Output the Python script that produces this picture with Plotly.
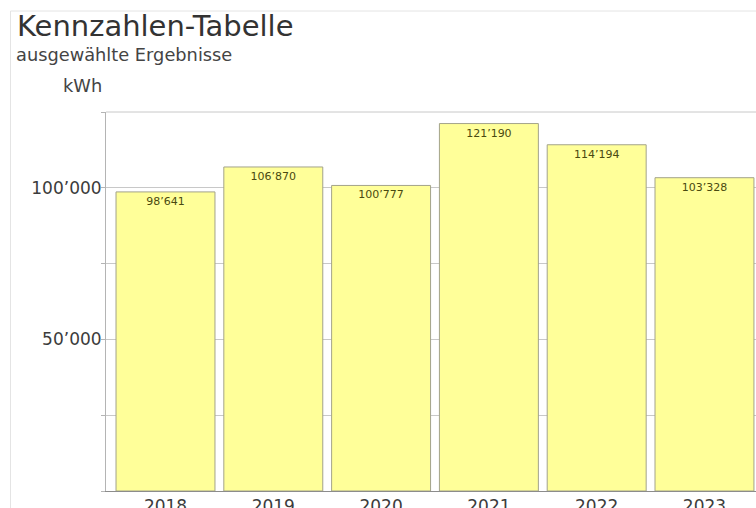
import plotly.graph_objects as go

years = ["2018", "2019", "2020", "2021", "2022", "2023"]
values = [98641, 106870, 100777, 121190, 114194, 103328]
y_tick_vals = [0, 25000, 50000, 75000, 100000, 125000]
y_tick_text = ["", "", "50’000", "", "100’000", ""]

title_text = "Kennzahlen-Tabelle"
subtitle_text = "ausgewählte Ergebnisse"
unit_text = "kWh"

W, H = 756, 508
ml, mr, mt, mb = 106, 0, 112, 17
pw, ph = W - ml - mr, H - mt - mb

def px_x(px):
    return (px - ml) / pw

def px_y(py):
    return (H - mb - py) / ph

FONT = "DejaVu Sans, Verdana, sans-serif"

fig = go.Figure(
    go.Bar(
        x=years,
        y=values,
        marker=dict(color="#ffff99", line=dict(color="#a3a38a", width=1)),
        texttemplate="%{y:,d}",
        textposition="inside",
        insidetextanchor="end",
        textangle=0,
        textfont=dict(family=FONT, size=11, color="#4a4a10"),
        cliponaxis=True,
        hoverinfo="skip",
    )
)

fig.update_layout(
    width=W,
    height=H,
    margin=dict(l=ml, r=mr, t=mt, b=mb, pad=0, autoexpand=False),
    paper_bgcolor="white",
    plot_bgcolor="white",
    separators=".’",
    bargap=0.082,
    showlegend=False,
    font=dict(family=FONT, color="#444444"),
    xaxis=dict(
        type="category",
        range=[-0.552, 5.478],
        showgrid=False,
        showline=True,
        linecolor="#8c8c8c",
        linewidth=1,
        ticks="",
        automargin=False,
        tickfont=dict(family=FONT, size=17, color="#3c3c3c"),
        fixedrange=True,
    ),
    yaxis=dict(
        range=[0, 125000],
        tickvals=y_tick_vals,
        ticktext=y_tick_text,
        showgrid=True,
        gridcolor="#c8c8c8",
        gridwidth=1,
        zeroline=False,
        showline=True,
        linecolor="#b4b4b4",
        linewidth=1,
        ticks="outside",
        ticklen=4,
        tickcolor="#b4b4b4",
        ticklabelstandoff=-4,
        automargin=False,
        tickfont=dict(family=FONT, size=17, color="#3c3c3c"),
        fixedrange=True,
    ),
    shapes=[
        dict(type="line", xref="paper", yref="paper",
             x0=px_x(10.5), x1=px_x(10.5), y0=px_y(11), y1=px_y(508),
             line=dict(color="#e4e4e4", width=1)),
        dict(type="line", xref="paper", yref="paper",
             x0=px_x(10.5), x1=px_x(756), y0=px_y(11), y1=px_y(11),
             line=dict(color="#e4e4e4", width=1)),
        dict(type="line", xref="paper", yref="paper",
             x0=0, x1=1, y0=1, y1=1,
             line=dict(color="#c8c8c8", width=1)),
    ],
    annotations=[
        dict(text=title_text, xref="paper", yref="paper", x=px_x(15), y=px_y(26),
             xanchor="left", yanchor="middle", showarrow=False,
             font=dict(family=FONT, size=29, color="#333333")),
        dict(text=subtitle_text, xref="paper", yref="paper", x=px_x(14), y=px_y(55),
             xanchor="left", yanchor="middle", showarrow=False,
             font=dict(family=FONT, size=17.8, color="#444444")),
        dict(text=unit_text, xref="paper", yref="paper", x=px_x(61), y=px_y(85),
             xanchor="left", yanchor="middle", showarrow=False,
             font=dict(family=FONT, size=17.8, color="#444444")),
    ],
)

fig.write_html("out.html", config={"displayModeBar": False})
